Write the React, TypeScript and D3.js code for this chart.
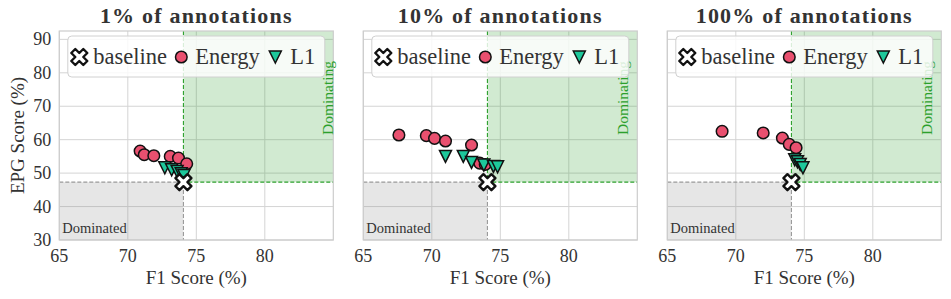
import { useEffect, useRef } from 'react';
import * as d3 from 'd3';

// panel titles
const titles = ['1% of annotations', '10% of annotations', '100% of annotations'];

// baseline (F1, EPG) shared by all panels
const baseline = { f1: 74.06, epg: 47.3 };

// Energy points per panel: [F1, EPG]
const energy1 = [[70.9, 56.6], [71.2, 55.5], [71.9, 55.2], [73.1, 55.0], [73.7, 54.5], [74.3, 52.8]];
const energy10 = [[67.6, 61.4], [69.6, 61.2], [70.2, 60.4], [71.0, 59.6], [72.9, 58.4], [73.5, 53.0], [73.9, 52.6]];
const energy100 = [[69.0, 62.5], [72.0, 62.0], [73.4, 60.5], [73.9, 58.6], [74.4, 57.6]];

// L1 points per panel: [F1, EPG]
const l1_1 = [[72.7, 51.6], [73.2, 51.0], [73.6, 50.5], [73.9, 49.8], [74.1, 49.3]];
const l1_10 = [[71.0, 55.0], [72.3, 55.0], [72.9, 53.2], [73.8, 52.4], [74.5, 52.0], [74.8, 51.9]];
const l1_100 = [[74.3, 54.0], [74.5, 53.4], [74.7, 52.6], [74.9, 51.6]];

const energySets = [energy1, energy10, energy100];
const l1Sets = [l1_1, l1_10, l1_100];

// where the rotated "Dominating" label sits (F1 units)
const dominatingX = [84.75, 84.1, 84.1];

const xDomain = [65, 85];
const yDomain = [30, 92.5];
const xTicks = [65, 70, 75, 80];
const yTicks = [30, 40, 50, 60, 70, 80, 90];

const pink = '#e9506f';
const teal = '#1dc89b';
const green = '#2ca02c';
const serif = "'Liberation Serif', 'DejaVu Serif', serif";

function triPath(s) {
  const h = s / 2;
  return `M0,${h}L${-h},${-h}L${h},${-h}Z`;
}

export default function App() {
  const svgRef = useRef(null);

  useEffect(() => {
    const width = 951;
    const height = 299;
    const svg = d3.select(svgRef.current);
    svg.selectAll('*').remove();
    svg.attr('width', width).attr('height', height).style('font-family', serif);

    svg.append('rect').attr('width', width).attr('height', height).attr('fill', '#fff');

    const lefts = [59.3, 363.3, 667.3];
    const plotW = 274;
    const top = 31;
    const bottom = 240;

    const xSym = d3.symbol(d3.symbolCross, 160)();

    const txt = (sel) => sel.style('font-family', serif);

    titles.forEach((title, i) => {
      const left = lefts[i];
      const x = d3.scaleLinear().domain(xDomain).range([left, left + plotW]);
      const y = d3.scaleLinear().domain(yDomain).range([bottom, top]);
      const g = svg.append('g');

      // grid
      g.selectAll('.gx')
        .data(xTicks)
        .enter()
        .append('line')
        .attr('x1', d => x(d)).attr('x2', d => x(d))
        .attr('y1', top).attr('y2', bottom)
        .attr('stroke', '#d4d4d4').attr('stroke-width', 1);
      g.selectAll('.gy')
        .data(yTicks)
        .enter()
        .append('line')
        .attr('x1', left).attr('x2', left + plotW)
        .attr('y1', d => y(d)).attr('y2', d => y(d))
        .attr('stroke', '#d4d4d4').attr('stroke-width', 1);

      // dominating region
      g.append('rect')
        .attr('x', x(baseline.f1)).attr('y', y(yDomain[1]))
        .attr('width', x(xDomain[1]) - x(baseline.f1))
        .attr('height', y(baseline.epg) - y(yDomain[1]))
        .attr('fill', green).attr('fill-opacity', 0.22);
      // dominated region
      g.append('rect')
        .attr('x', x(xDomain[0])).attr('y', y(baseline.epg))
        .attr('width', x(baseline.f1) - x(xDomain[0]))
        .attr('height', y(yDomain[0]) - y(baseline.epg))
        .attr('fill', '#808080').attr('fill-opacity', 0.2);

      g.append('path')
        .attr('d', `M${x(baseline.f1)},${y(yDomain[1])}V${y(baseline.epg)}H${x(xDomain[1])}`)
        .attr('fill', 'none').attr('stroke', green).attr('stroke-width', 1.1)
        .attr('stroke-dasharray', '4,2');
      g.append('path')
        .attr('d', `M${x(xDomain[0])},${y(baseline.epg)}H${x(baseline.f1)}V${y(yDomain[0])}`)
        .attr('fill', 'none').attr('stroke', '#999').attr('stroke-width', 1.1)
        .attr('stroke-dasharray', '4,2');

      // spines
      g.append('rect')
        .attr('x', left).attr('y', top).attr('width', plotW).attr('height', bottom - top)
        .attr('fill', 'none').attr('stroke', '#cccccc').attr('stroke-width', 1.2);

      g.append('text')
        .call(txt)
        .attr('x', x(xDomain[0]) + 3).attr('y', bottom - 7)
        .attr('font-size', 14.5).attr('fill', '#333')
        .text('Dominated');

      g.append('text')
        .call(txt)
        .attr('transform', `translate(${x(dominatingX[i]) + 3},${y(yDomain[0]) - 105}) rotate(-90)`)
        .attr('font-size', 15.5).attr('fill', green)
        .text('Dominating');

      // points
      g.selectAll('.energy')
        .data(energySets[i])
        .enter()
        .append('circle')
        .attr('cx', d => x(d[0])).attr('cy', d => y(d[1])).attr('r', 5.8)
        .attr('fill', pink).attr('stroke', '#111').attr('stroke-width', 1.5);

      g.selectAll('.l1')
        .data(l1Sets[i])
        .enter()
        .append('path')
        .attr('transform', d => `translate(${x(d[0])},${y(d[1])})`)
        .attr('d', triPath(12))
        .attr('fill', teal).attr('stroke', '#111').attr('stroke-width', 1.5);

      g.append('path')
        .attr('transform', `translate(${x(baseline.f1)},${y(baseline.epg)}) rotate(45)`)
        .attr('d', xSym)
        .attr('fill', '#fff').attr('stroke', '#111').attr('stroke-width', 2.4)
        .attr('stroke-linejoin', 'round');

      // x axis
      g.selectAll('.xt')
        .data(xTicks)
        .enter()
        .append('text')
        .call(txt)
        .attr('x', d => x(d)).attr('y', bottom + 22)
        .attr('text-anchor', 'middle')
        .attr('font-size', 18).attr('fill', '#333')
        .text(d => d);

      g.append('text')
        .call(txt)
        .attr('x', left + plotW / 2).attr('y', bottom + 44)
        .attr('text-anchor', 'middle')
        .attr('font-size', 19).attr('fill', '#333')
        .text('F1 Score (%)');

      if (i === 0) {
        g.selectAll('.yt')
          .data(yTicks)
          .enter()
          .append('text')
          .call(txt)
          .attr('x', left - 8).attr('y', d => y(d) + 6)
          .attr('text-anchor', 'end')
          .attr('font-size', 18).attr('fill', '#333')
          .text(d => d);

        g.append('text')
          .call(txt)
          .attr('transform', `translate(24,${(top + bottom) / 2}) rotate(-90)`)
          .attr('text-anchor', 'middle')
          .attr('font-size', 19).attr('fill', '#333')
          .text('EPG Score (%)');
      }

      g.append('text')
        .call(txt)
        .attr('x', left + plotW / 2).attr('y', 23)
        .attr('text-anchor', 'middle')
        .attr('font-size', 22).attr('font-weight', 'bold')
        .attr('letter-spacing', 1.2).attr('fill', '#333')
        .text(title);

      // legend
      const lg = g.append('g').attr('transform', `translate(${left + 8.5},36)`);
      lg.append('rect')
        .attr('width', 257).attr('height', 41).attr('rx', 4)
        .attr('fill', '#fff').attr('fill-opacity', 0.82)
        .attr('stroke', '#d0d0d0').attr('stroke-width', 1);
      lg.append('path')
        .attr('transform', 'translate(11.5,21) rotate(45)')
        .attr('d', xSym)
        .attr('fill', '#fff').attr('stroke', '#111').attr('stroke-width', 2.4)
        .attr('stroke-linejoin', 'round');
      lg.append('circle')
        .attr('cx', 113.5).attr('cy', 21).attr('r', 5.8)
        .attr('fill', pink).attr('stroke', '#111').attr('stroke-width', 1.5);
      lg.append('path')
        .attr('transform', 'translate(207.5,21)')
        .attr('d', triPath(12))
        .attr('fill', teal).attr('stroke', '#111').attr('stroke-width', 1.5);
      const labels = [['baseline', 25.5], ['Energy', 127.5], ['L1', 222.5]];
      labels.forEach(([t, lx]) => {
        lg.append('text')
          .call(txt)
          .attr('x', lx).attr('y', 28)
          .attr('font-size', 22.5).attr('fill', '#333')
          .text(t);
      });
    });
  }, []);

  return (
    <div style={{ margin: -8 }}>
      <svg ref={svgRef} style={{ display: 'block' }} />
    </div>
  );
}
